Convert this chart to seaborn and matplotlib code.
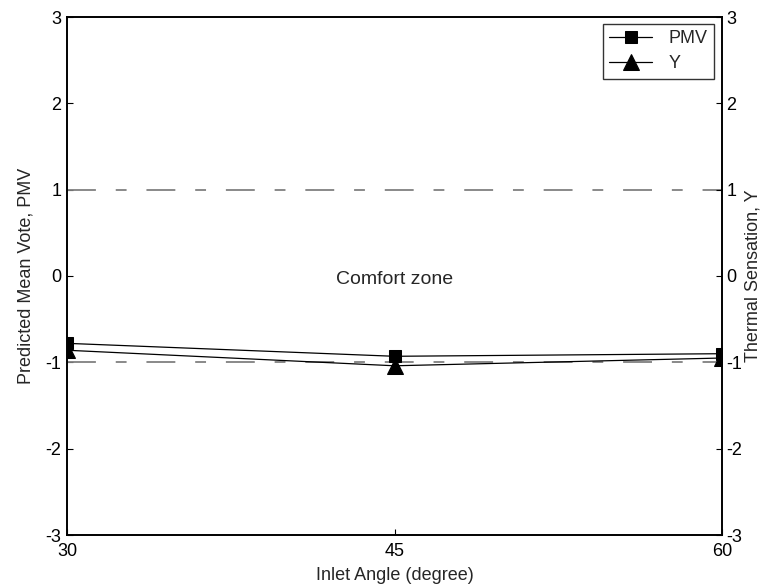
import matplotlib
matplotlib.use("Agg")
import matplotlib.pyplot as plt
import seaborn as sns
import pandas as pd

angles = [30, 45, 60]
pmv = [-0.78, -0.93, -0.90]
y_sens = [-0.86, -1.04, -0.95]
yticks = [-3, -2, -1, 0, 1, 2, 3]
xticks = [30, 45, 60]

sns.set_theme(style="white")
plt.rcParams['font.family'] = ['Liberation Sans', 'DejaVu Sans']
plt.rcParams['font.size'] = 13
plt.rcParams['axes.unicode_minus'] = False

fig = plt.figure(figsize=(7.67, 5.88), dpi=100)
ax = fig.add_axes([67 / 767, 53 / 588, 655 / 767, 518 / 588])

df = pd.DataFrame({"angle": angles * 2,
                   "value": pmv + y_sens,
                   "series": ["PMV"] * 3 + ["Y"] * 3})

sns.lineplot(data=df[df.series == "PMV"], x="angle", y="value", ax=ax,
             color="black", lw=0.9, marker="s", markersize=9, markeredgecolor="black",
             label="PMV")
sns.lineplot(data=df[df.series == "Y"], x="angle", y="value", ax=ax,
             color="black", lw=0.9, marker="^", markersize=11, markeredgecolor="black",
             label="Y")

for yv in (-1, 1):
    ax.axhline(yv, color="#808080", lw=1.3, dashes=(16, 11, 6, 11), zorder=1)

ax.text(45, -0.04, "Comfort zone", ha="center", va="center", fontsize=14)

ax.set_xlim(30, 60)
ax.set_ylim(-3, 3)
ax.set_xticks(xticks)
ax.set_yticks(yticks)
ax.set_xlabel("Inlet Angle (degree)", fontsize=13, labelpad=5)
ax.set_ylabel("Predicted Mean Vote, PMV", fontsize=13, labelpad=8)
ax.tick_params(axis="x", direction="in", length=4.5, width=0.8, colors="black",
               labelsize=13, pad=6)
ax.tick_params(axis="y", direction="in", length=4.5, width=0.8, colors="black",
               labelsize=13, pad=4, left=True, right=False)
ax.tick_params(bottom=True, top=False)
for s in ax.spines.values():
    s.set_color("black")
    s.set_linewidth(1.2)

ax2 = ax.twinx()
ax2.set_ylim(-3, 3)
ax2.set_yticks(yticks)
ax2.set_ylabel("Thermal Sensation, Y", fontsize=13, labelpad=2)
ax2.tick_params(direction="in", length=4.5, width=0.8, colors="black", labelsize=13, pad=3)
ax2.grid(False)
for s in ax2.spines.values():
    s.set_color("black")
    s.set_linewidth(1.2)

leg = ax.legend(loc="upper right", frameon=True, fancybox=False, edgecolor="black",
                fontsize=13, handlelength=2.4, borderpad=0.35, labelspacing=0.45,
                handletextpad=0.9, borderaxespad=0,
                bbox_to_anchor=(1 - 8 / 655, 1 - 7 / 518))
leg.get_frame().set_linewidth(1.0)

fig.savefig("out.png", dpi=100)
